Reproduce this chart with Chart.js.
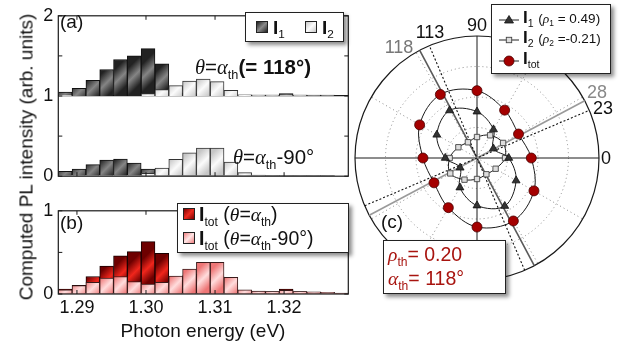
<!DOCTYPE html>
<html><head><meta charset="utf-8">
<script src="https://cdn.jsdelivr.net/npm/chart.js@4.4.1/dist/chart.umd.min.js"></script>
<style>
html,body{margin:0;padding:0;background:#fff;}
#wrap{position:relative;width:624px;height:350px;overflow:hidden;font-family:"Liberation Sans",Arial,Helvetica,sans-serif;color:#111;background:#fff;}
canvas{position:absolute;}
.t{position:absolute;white-space:nowrap;line-height:1;}
.s{font-size:0.62em;position:relative;top:0.38em;font-weight:normal;}
.g{font-family:"Liberation Serif","DejaVu Serif",serif;font-style:italic;}
.box{position:absolute;background:#fff;border:1px solid #222;box-shadow:3px 3px 4px rgba(0,0,0,0.45);}
.sw{position:absolute;width:10px;height:10px;border:1px solid #222;}
.c{transform:translate(-50%,-50%);}
</style></head><body>
<div id="wrap">
<canvas id="ca" width="352" height="192" style="left:0;top:0"></canvas>
<canvas id="cb" width="352" height="155" style="left:0;top:195px"></canvas>
<canvas id="cc" width="260" height="260" style="left:347px;top:28px"></canvas>

<div class="t" style="left:26px;top:157px;font-size:19px;transform:translate(-50%,-50%) rotate(-90deg);">Computed PL intensity (arb. units)</div>
<div class="t" style="left:203px;top:321px;font-size:19px;transform:translateX(-50%);">Photon energy (eV)</div>

<div class="t" style="left:60px;top:12px;font-size:19px;">(a)</div>
<div class="t" style="left:60px;top:213px;font-size:19px;">(b)</div>
<div class="t" style="left:381px;top:212px;font-size:19px;">(c)</div>

<div class="t" style="left:195px;top:57px;font-size:20.5px;"><span class="g">θ</span>=<span class="g">α</span><span class="s">th</span><b>(= 118°)</b></div>
<div class="t" style="left:233px;top:147px;font-size:20.5px;"><span class="g">θ</span>=<span class="g">α</span><span class="s">th</span>-90°</div>

<div class="box" style="left:245px;top:12px;width:97px;height:28px;">
  <span class="sw" style="left:10px;top:8px;background:linear-gradient(135deg,#222,#8a8a8a,#222);"></span>
  <span class="t" style="left:27px;top:5px;font-size:19px;font-weight:bold;">I<span class="s">1</span></span>
  <span class="sw" style="left:59px;top:8px;background:linear-gradient(135deg,#c8c8c8,#fbfbfb,#c8c8c8);"></span>
  <span class="t" style="left:76px;top:5px;font-size:19px;font-weight:bold;">I<span class="s">2</span></span>
</div>

<div class="box" style="left:177px;top:203px;width:170px;height:48px;">
  <span class="sw" style="left:5px;top:4px;background:linear-gradient(135deg,#7d0000,#ec2a1f,#7d0000);"></span>
  <span class="t" style="left:21px;top:1px;font-size:19.5px;"><b>I</b><span class="s">tot</span> (<span class="g">θ</span>=<span class="g">α</span><span class="s">th</span>)</span>
  <span class="sw" style="left:5px;top:28px;background:linear-gradient(135deg,#f08080,#ffe6e6,#f08080);"></span>
  <span class="t" style="left:21px;top:25px;font-size:19.5px;"><b>I</b><span class="s">tot</span> (<span class="g">θ</span>=<span class="g">α</span><span class="s">th</span>-90°)</span>
</div>

<div class="box" style="left:491px;top:4px;width:118px;height:68px;">
  <svg style="position:absolute;left:7px;top:5px" width="20" height="60">
    <line x1="0" y1="10" x2="20" y2="10" stroke="#222" stroke-width="1"/>
    <polygon points="10,5.5 14.5,13 5.5,13" fill="#333" stroke="#111" stroke-width="0.8"/>
    <line x1="0" y1="30" x2="20" y2="30" stroke="#222" stroke-width="1"/>
    <rect x="7.3" y="27.3" width="5.4" height="5.4" fill="#ddd" stroke="#444" stroke-width="0.9"/>
    <line x1="0" y1="51" x2="20" y2="51" stroke="#222" stroke-width="1"/>
    <circle cx="10" cy="51" r="5" fill="#a40000" stroke="#4a0000" stroke-width="0.8"/>
  </svg>
  <span class="t" style="left:31px;top:4px;font-size:17px;"><b>I</b><span class="s">1</span> <span style="font-size:13.5px;">(<span class="g">ρ</span><span class="s">1</span> = 0.49)</span></span>
  <span class="t" style="left:31px;top:24px;font-size:17px;"><b>I</b><span class="s">2</span> <span style="font-size:13.5px;">(<span class="g">ρ</span><span class="s">2</span> =-0.21)</span></span>
  <span class="t" style="left:31px;top:45px;font-size:17px;"><b>I</b><span class="s">tot</span></span>
</div>

<div class="t c" style="left:477px;top:25px;font-size:18px;">90</div>
<div class="t c" style="left:430px;top:32px;font-size:18px;">113</div>
<div class="t c" style="left:399px;top:47px;font-size:18px;color:#777;">118</div>
<div class="t c" style="left:597px;top:92px;font-size:18px;color:#888;">28</div>
<div class="t c" style="left:603px;top:108px;font-size:18px;">23</div>
<div class="t c" style="left:606px;top:158px;font-size:18px;">0</div>

<div class="box" style="left:383px;top:240px;width:121px;height:52px;color:#a8140f;">
  <span class="t" style="left:4px;top:4px;font-size:19.5px;"><span class="g">ρ</span><span class="s">th</span>= 0.20</span>
  <span class="t" style="left:4px;top:28px;font-size:19.5px;"><span class="g">α</span><span class="s">th</span>= 118°</span>
</div>
</div>

<script>
// ---------------- data: spectra (bin centres in eV) ----------------
const energy = [1.2883,1.2903,1.2923,1.2943,1.2963,1.2983,1.3003,1.3023,1.3043,1.3063,1.3083,1.3103,1.3123,1.3143,1.3163,1.3183,1.3203,1.3223,1.3243,1.3263,1.3283];
// panel (a), theta = alpha_th (plotted with +1 offset)
const I1_alpha = [0.05,0.095,0.195,0.33,0.455,0.50,0.59,0.40,0.04,0.03,0.03,0.03,0.02,0.01,0.01,0.01,0.03,0.01,0.01,0.01,0.0];
const I2_alpha = [0.01,0.0,0.0,0.0,0.0,0.0,0.03,0.08,0.13,0.185,0.21,0.18,0.07,0.015,0.01,0.01,0.01,0.01,0.005,0.005,0.0];
// panel (a), theta = alpha_th - 90
const I1_perp = [0.06,0.09,0.145,0.20,0.215,0.165,0.09,0.05,0.02,0.01,0.01,0.01,0.01,0.01,0.01,0.01,0.01,0.01,0.01,0.005,0.0];
const I2_perp = [0.0,0.0,0.0,0.0,0.0,0.0,0.035,0.10,0.21,0.29,0.35,0.35,0.175,0.045,0.015,0.01,0.01,0.01,0.01,0.005,0.0];
// panel (b)
const Itot_alpha = [0.06,0.105,0.21,0.335,0.46,0.51,0.63,0.49,0.17,0.22,0.24,0.21,0.09,0.03,0.03,0.03,0.06,0.03,0.02,0.02,0.005];
const Itot_perp  = [0.05,0.10,0.14,0.19,0.21,0.15,0.12,0.14,0.215,0.30,0.38,0.38,0.20,0.05,0.035,0.03,0.045,0.03,0.025,0.02,0.01];
const energyTicks = [1.29,1.30,1.31,1.32];

// ---------------- data: polar plot (c) ----------------
const polarAngles = [0,30,60,90,120,150,180,210,240,270,300,330];
const Itot_polar = [0.445,0.393,0.453,0.552,0.601,0.543,0.443,0.407,0.470,0.566,0.596,0.539];
const I1_polar   = [0.26,0.155,0.27,0.38,0.45,0.38,0.26,0.16,0.28,0.39,0.455,0.37];
const I2_polar   = [0.23,0.247,0.215,0.172,0.149,0.176,0.224,0.253,0.205,0.172,0.154,0.176];
const refAngles  = [118,113,28,23];

// ---------------- helpers ----------------
const FONT = '"Liberation Sans", Arial, Helvetica, sans-serif';
const X_MIN = 1.2873, X_MAX = 1.3293;

function gradFill(c0, c1) {
  return (ctx) => {
    if (ctx.type !== 'data' || !ctx.raw) return c0;
    const ch = ctx.chart, xs = ch.scales.x, ys = ch.scales.y;
    const raw = ctx.raw;
    const yv = Array.isArray(raw.y) ? raw.y : [0, raw.y];
    const xc = xs.getPixelForValue(raw.x);
    const top = ys.getPixelForValue(yv[1]), base = ys.getPixelForValue(yv[0]);
    if (![xc, top, base].every(Number.isFinite)) return c0;
    const ym = (top + base) / 2, hw = 7;
    const g = ch.ctx.createLinearGradient(xc - hw, ym - hw, xc + hw, ym + hw);
    g.addColorStop(0, c0); g.addColorStop(0.5, c1); g.addColorStop(1, c0);
    return g;
  };
}

const framePlugin = {
  id: 'frame',
  afterDatasetsDraw(chart) {
    const {ctx, chartArea: a, scales: {x, y}} = chart;
    ctx.save();
    ctx.strokeStyle = '#1a1a1a';
    ctx.lineWidth = 1.2;
    ctx.strokeRect(a.left, a.top, a.right - a.left, a.bottom - a.top);
    ctx.lineWidth = 1;
    ctx.beginPath();
    energyTicks.forEach(v => {
      const px = x.getPixelForValue(v);
      ctx.moveTo(px, a.top); ctx.lineTo(px, a.top + 4);
      ctx.moveTo(px, a.bottom); ctx.lineTo(px, a.bottom - 4);
    });
    y.ticks.forEach(t => {
      const py = y.getPixelForValue(t.value);
      ctx.moveTo(a.left, py); ctx.lineTo(a.left + 4, py);
      ctx.moveTo(a.right, py); ctx.lineTo(a.right - 4, py);
    });
    ctx.stroke();
    ctx.restore();
  }
};

function yAxis(max) {
  return {
    min: 0, max: max,
    afterFit(s) { s.width = 58.3; },
    ticks: { stepSize: 0.5, padding: 5, autoSkip: false, color: '#111', font: {size: 18, family: FONT},
             callback: v => Number.isInteger(v) ? String(v) : '' },
    grid: { color: c => (c.tick && c.tick.value === 1 && max === 2) ? '#1a1a1a' : 'rgba(0,0,0,0)', lineWidth: 1.2, drawTicks: false },
    border: { display: false }
  };
}

const DARK = ['#222222', '#858585'], LIGHT = ['#c6c6c6', '#fbfbfb'];
const RED = ['#6e0000', '#f0261c'], PINK = ['#ee7676', '#ffdcdc'];

function barDs(label, data, col, border, order) {
  return { label, data, backgroundColor: gradFill(col[0], col[1]), borderColor: border, borderWidth: 1, order };
}

const commonBar = { grouped: false, barPercentage: 1, categoryPercentage: 1 };

// ---------------- panel (a) ----------------
new Chart(document.getElementById('ca'), {
  type: 'bar',
  data: {
    datasets: [
      barDs('I2 alpha', energy.map((e, i) => ({x: e, y: [1, 1 + I2_alpha[i]]})), LIGHT, '#333', 0),
      barDs('I1 alpha', energy.map((e, i) => ({x: e, y: [1, 1 + I1_alpha[i]]})), DARK, '#111', 1),
      barDs('I2 perp', energy.map((e, i) => ({x: e, y: I2_perp[i]})), LIGHT, '#333', 0),
      barDs('I1 perp', energy.map((e, i) => ({x: e, y: I1_perp[i]})), DARK, '#111', 1)
    ]
  },
  options: {
    responsive: false, animation: false,
    layout: { padding: { top: 5, right: 3.7, bottom: 4, left: 0 } },
    datasets: { bar: commonBar },
    plugins: { legend: { display: false }, tooltip: { enabled: false } },
    scales: {
      x: { type: 'linear', display: false, min: X_MIN, max: X_MAX, offset: false,
           ticks: { stepSize: 0.01, includeBounds: false } },
      y: yAxis(2)
    }
  },
  plugins: [framePlugin]
});

// ---------------- panel (b) ----------------
new Chart(document.getElementById('cb'), {
  type: 'bar',
  data: {
    datasets: [
      barDs('Itot perp', energy.map((e, i) => ({x: e, y: Itot_perp[i]})), PINK, '#3a1a1a', 0),
      barDs('Itot alpha', energy.map((e, i) => ({x: e, y: Itot_alpha[i]})), RED, '#1a0000', 1)
    ]
  },
  options: {
    responsive: false, animation: false,
    layout: { padding: { top: 7, right: 3.7, bottom: 0, left: 0 } },
    datasets: { bar: commonBar },
    plugins: { legend: { display: false }, tooltip: { enabled: false } },
    scales: {
      x: { type: 'linear', min: X_MIN, max: X_MAX, offset: false,
           afterFit(s) { s.height = 56; },
           afterBuildTicks(s) { s.ticks = energyTicks.map(v => ({value: v})); },
           ticks: { padding: 3, autoSkip: false, maxRotation: 0, color: '#111', font: {size: 18, family: FONT},
                    callback: v => Number(v).toFixed(2) },
           grid: { display: false, drawTicks: false },
           border: { display: false } },
      y: yAxis(1)
    }
  },
  plugins: [framePlugin]
});

// ---------------- panel (c): polar ----------------
const polarOrder = [90,60,30,0,330,300,270,240,210,180,150,120]; // clockwise from top
const reorder = arr => polarOrder.map(a => arr[polarAngles.indexOf(a)]);
const refStyles = [
  {color: '#5a5a5a', width: 1.6, dash: []},
  {color: '#111', width: 1.1, dash: [2, 2]},
  {color: '#9a9a9a', width: 1.6, dash: []},
  {color: '#111', width: 1.1, dash: [2, 2]}
];
const refLinePlugin = {
  id: 'refLines',
  beforeDatasetsDraw(chart) {
    const s = chart.scales.r, ctx = chart.ctx;
    const R = s.drawingArea, cx = s.xCenter, cy = s.yCenter;
    refAngles.forEach((ang, i) => {
      const st = refStyles[i], a = ang * Math.PI / 180;
      ctx.save();
      ctx.strokeStyle = st.color; ctx.lineWidth = st.width; ctx.setLineDash(st.dash);
      ctx.beginPath();
      ctx.moveTo(cx - R * Math.cos(a), cy + R * Math.sin(a));
      ctx.lineTo(cx + R * Math.cos(a), cy - R * Math.sin(a));
      ctx.stroke();
      ctx.restore();
    });
  }
};

new Chart(document.getElementById('cc'), {
  type: 'radar',
  data: {
    labels: polarOrder.map(String),
    datasets: [
      { label: 'Itot', data: reorder(Itot_polar), borderColor: '#1a1a1a', borderWidth: 1, fill: false, tension: 0.35,
        pointStyle: 'circle', pointRadius: 5, pointBackgroundColor: '#a40000', pointBorderColor: '#4a0000', pointBorderWidth: 0.8 },
      { label: 'I1', data: reorder(I1_polar), borderColor: '#1a1a1a', borderWidth: 1, fill: false, tension: 0.35,
        pointStyle: 'triangle', pointRadius: 4.6, pointBackgroundColor: '#333', pointBorderColor: '#111', pointBorderWidth: 0.8 },
      { label: 'I2', data: reorder(I2_polar), borderColor: '#1a1a1a', borderWidth: 1, fill: false, tension: 0.35,
        pointStyle: 'rect', pointRadius: 3.8, pointBackgroundColor: '#ddd', pointBorderColor: '#444', pointBorderWidth: 0.9 }
    ]
  },
  options: {
    responsive: false, animation: false,
    layout: { padding: 8 },
    plugins: { legend: { display: false }, tooltip: { enabled: false } },
    scales: {
      r: {
        min: 0, max: 1, startAngle: 0,
        ticks: { display: false, stepSize: 0.25 },
        pointLabels: { display: false },
        grid: { circular: true,
                color: c => (c.tick && c.tick.value === 1) ? '#1a1a1a' : '#8a8a8a',
                lineWidth: c => (c.tick && c.tick.value === 1) ? 1.2 : 1 },
        border: { dash: c => (c.tick && c.tick.value === 1) ? [] : [1, 3] },
        angleLines: { color: c => c.index % 3 === 0 ? '#1a1a1a' : '#8a8a8a',
                      borderDash: c => c.index % 3 === 0 ? [] : [1, 3], lineWidth: 1 }
      }
    }
  },
  plugins: [refLinePlugin]
});
</script>
</body></html>
